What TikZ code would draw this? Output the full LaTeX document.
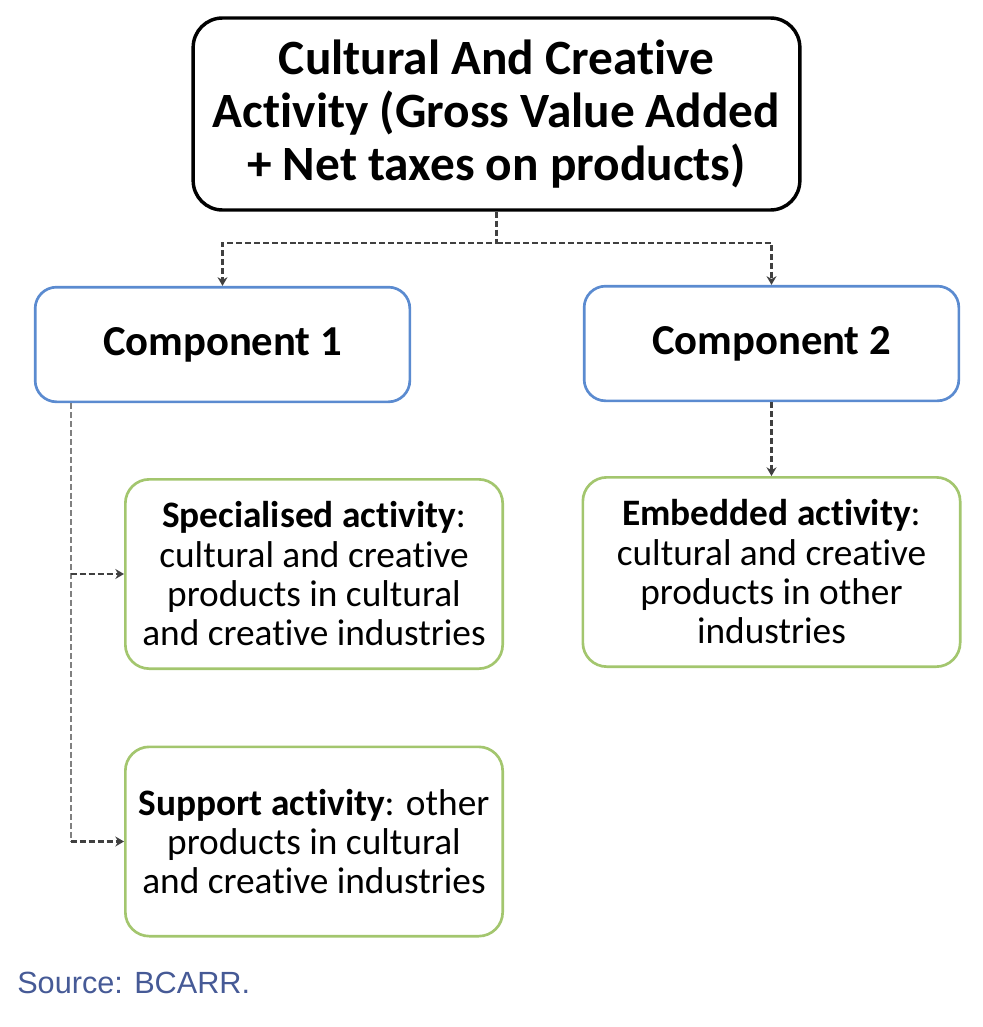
\documentclass[tikz,border=0pt]{standalone}
\usepackage{fontspec}
\setmainfont{Carlito}[Ligatures=NoCommon]
\newfontfamily\srcfont{Liberation Sans}
\usetikzlibrary{arrows.meta}
\definecolor{compblue}{RGB}{91,139,208}
\definecolor{actgreen}{RGB}{163,198,110}
\definecolor{srcblue}{RGB}{70,90,150}
\tikzset{
  mainbox/.style={rectangle, draw=black, line width=2.6pt, rounded corners=22pt,
    minimum width=455pt, minimum height=144pt, align=center,
    font=\fontsize{37}{39.5}\selectfont\bfseries},
  compbox/.style={rectangle, draw=compblue, line width=2pt, rounded corners=16pt,
    minimum width=281pt, minimum height=86pt,
    font=\fontsize{32}{38}\selectfont\bfseries},
  actbox/.style={rectangle, draw=actgreen, line width=2pt, rounded corners=18pt,
    minimum width=283pt, minimum height=142pt, align=center,
    font=\fontsize{28}{29.5}\selectfont},
  link/.style={line width=1.8pt, dash pattern=on 4.5pt off 2.2pt, draw=black!75,
    -{Stealth[length=6.5pt,width=7.5pt]}},
  trunkline/.style={line width=2pt, dash pattern=on 4.5pt off 2.2pt, draw=black!50},
}
\begin{document}
\begin{tikzpicture}[x=0.75pt,y=-0.75pt]
    \useasboundingbox (0,0) rectangle (982,1027);
    % Total activity
    \node[mainbox] (total) at (496.5,114) {Cultural And Creative\\Activity (Gross Value Added\\+ Net taxes on products)};
    % Two components
    \node[compbox] (comp1) at (222.5,344.5) {Component 1};
    \node[compbox] (comp2) at (771.5,343.5) {Component 2};
    % Kinds of activity
    \node[actbox] (spec) at (314,574) {\textbf{Specialised activity}:\\cultural and creative\\products in cultural\\and creative industries};
    \node[actbox] (supp) at (314,841.5) {\textbf{Support activity}: other\\products in cultural\\and creative industries};
    \node[actbox] (emb) at (771.5,572) {\textbf{Embedded activity}:\\cultural and creative\\products in other\\industries};
    % Connectors
    \coordinate (split) at (496.5,243);
    \draw[link] (total.south) -- (split) -| (comp1.north);
    \draw[link] (split) -| (comp2.north);
    \draw[link] (comp2.south) -- (emb.north);
    \path (comp1.south west) ++(37,0) coordinate (trunktop);
    \coordinate (trunkend) at (trunktop |- supp.west);
    \draw[trunkline] (trunktop) -- (trunkend);
    \draw[link] (trunktop |- spec.west) -- (spec.west);
    \draw[link] (trunkend) -- (supp.west);
    % Source note
    \node[anchor=base west, inner sep=0pt, text=srcblue, font=\srcfont\fontsize{23}{26}\selectfont] (source) at (17,993) {Source: BCARR.};
\end{tikzpicture}
\end{document}
